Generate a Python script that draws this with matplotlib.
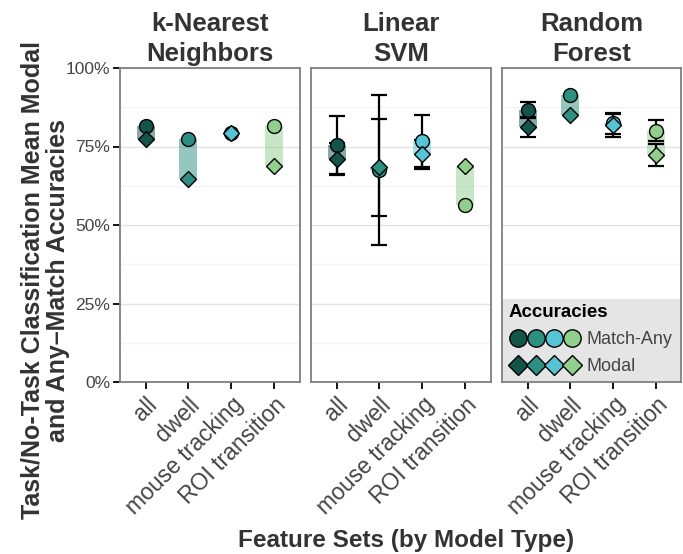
import numpy as np
import matplotlib
matplotlib.use("Agg")
import matplotlib.pyplot as plt
from matplotlib.lines import Line2D
from matplotlib.legend_handler import HandlerTuple
from matplotlib.patches import Rectangle
from matplotlib.ticker import FuncFormatter, MultipleLocator

plt.rcParams['font.family'] = ['Liberation Sans', 'DejaVu Sans']

models = ["k-Nearest\nNeighbors", "Linear\nSVM", "Random\nForest"]
features = ["all", "dwell", "mouse tracking", "ROI transition"]
match_any = [[81.5, 77.3, 79.4, 81.5],
             [75.5, 67.6, 76.8, 56.4],
             [86.6, 91.4, 82.4, 80.0]]
modal = [[77.3, 64.6, 79.4, 68.8],
         [71.0, 68.4, 72.5, 68.8],
         [81.3, 85.0, 81.7, 72.3]]
match_any_err = [[np.nan, np.nan, np.nan, np.nan],
                 [9.2, 23.9, 8.2, np.nan],
                 [2.6, np.nan, 3.4, 3.4]]
modal_err = [[np.nan, np.nan, np.nan, np.nan],
             [5.1, 15.4, 4.6, np.nan],
             [3.2, np.nan, 3.8, 3.5]]
colors = ["#13544b", "#2c8f80", "#55c4d4", "#90cf8c"]

W, H = 683, 554
fig = plt.figure(figsize=(W / 100, H / 100), dpi=100)
lefts = [120, 311, 502]
pw = 179.5
top, bot = 68, 382
text_c = "#333333"
tick_c = "#444444"

axes = []
for i, m in enumerate(models):
    ax = fig.add_axes([lefts[i] / W, 1 - bot / H, pw / W, (bot - top) / H])
    axes.append(ax)
    x = np.arange(1, len(features) + 1)
    ax.set_xlim(0.4, 4.6)
    ax.set_ylim(0, 1)
    ax.yaxis.set_major_locator(MultipleLocator(0.25))
    ax.yaxis.set_minor_locator(MultipleLocator(0.125))
    ax.grid(True, which="major", axis="y", color="#e3e3e3", lw=1.0, zorder=0)
    ax.grid(True, which="minor", axis="y", color="#f4f4f4", lw=1.0, zorder=0)
    ax.set_axisbelow(True)
    for j in range(len(features)):
        a = match_any[i][j] / 100
        d = modal[i][j] / 100
        lo, hi = min(a, d), max(a, d)
        ax.add_patch(Rectangle((x[j] - 0.21, lo), 0.42, hi - lo,
                               facecolor=colors[j], alpha=0.5, lw=0, zorder=1))
        for v, e in ((a, match_any_err[i][j]), (d, modal_err[i][j])):
            if not np.isnan(e):
                ax.errorbar(x[j], v, yerr=e / 100, fmt="none", ecolor="black",
                            elinewidth=1.6, capsize=5.5, capthick=1.6, zorder=2)
        ax.plot(x[j], a, marker="o", ms=10, mfc=colors[j], mec="black",
                mew=1.0, ls="none", zorder=3)
        ax.plot(x[j], d, marker="D", ms=8.5, mfc=colors[j], mec="black",
                mew=1.0, ls="none", zorder=4)
    ax.set_xticks(x)
    ax.set_xticklabels(features, rotation=45, ha="right", rotation_mode="anchor",
                       fontsize=16.5, color=tick_c)
    ax.tick_params(axis="x", length=5, width=1.3, color="black", pad=3)
    ax.tick_params(axis="y", which="major", length=5, width=1.3, color="black",
                   labelsize=12.5, labelcolor=tick_c, pad=2)
    ax.tick_params(axis="y", which="minor", length=0)
    ax.yaxis.set_major_formatter(FuncFormatter(lambda v, p: f"{int(round(v*100))}%"))
    if i > 0:
        ax.tick_params(axis="y", which="major", length=0, labelleft=False)
    for s in ax.spines.values():
        s.set_color("#7f7f7f")
        s.set_linewidth(1.3)
    ax.set_title(m, fontsize=18.5, fontweight="bold", color=text_c, pad=5,
                 linespacing=1.3)

# legend
ax = axes[2]
hc = tuple(Line2D([], [], marker="o", ms=12.5, mfc=c, mec="black", mew=1.0, ls="none")
           for c in colors)
hd = tuple(Line2D([], [], marker="D", ms=10, mfc=c, mec="black", mew=1.0, ls="none")
           for c in colors)
leg = ax.legend([hc, hd], ["Match-Any", "Modal"],
                handler_map={tuple: HandlerTuple(ndivide=None, pad=0)},
                title="Accuracies", loc="lower left", mode="expand",
                bbox_to_anchor=(0.008, 0.004, 0.984, 0.3), fontsize=13,
                title_fontproperties={"weight": "bold", "size": 13.5},
                facecolor="#e5e5e5", edgecolor="none", framealpha=1,
                fancybox=False, handlelength=4.0, handletextpad=0.3,
                borderaxespad=0.0, labelspacing=0.55, borderpad=0.3)
leg._legend_box.align = "left"
for t in leg.get_texts():
    t.set_color(tick_c)

fig.text(45 / W, 1 - 280 / H,
         "Task/No-Task Classification Mean Modal\nand Any\u2013Match Accuracies",
         rotation=90, ha="center", va="center", fontsize=18, fontweight="bold",
         color=text_c, linespacing=1.1)
fig.text(406 / W, 1 - 541 / H, "Feature Sets (by Model Type)", ha="center",
         va="center", fontsize=17.5, fontweight="bold", color=text_c)

fig.savefig("out.png", dpi=100)
